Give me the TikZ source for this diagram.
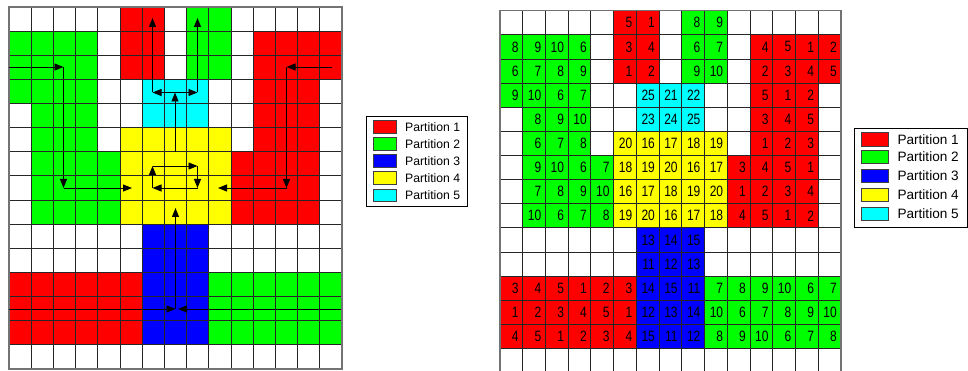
\documentclass[tikz,border=0pt]{standalone}
\usepackage{fontspec}
\usepackage{graphicx}
\setmainfont{Liberation Sans}
\usetikzlibrary{arrows.meta}
\definecolor{cR}{RGB}{255,0,0}
\definecolor{cG}{RGB}{0,255,0}
\definecolor{cB}{RGB}{0,0,255}
\definecolor{cY}{RGB}{255,255,0}
\definecolor{cC}{RGB}{0,255,255}
\definecolor{cW}{RGB}{255,255,255}
\def\cellrows{%
{W,W,W,W,W,R,R,W,G,G,W,W,W,W,W},%
{G,G,G,G,W,R,R,W,G,G,W,R,R,R,R},%
{G,G,G,G,W,R,R,W,G,G,W,R,R,R,R},%
{G,G,G,G,W,W,C,C,C,W,W,R,R,R,W},%
{W,G,G,G,W,W,C,C,C,W,W,R,R,R,W},%
{W,G,G,G,W,Y,Y,Y,Y,Y,W,R,R,R,W},%
{W,G,G,G,G,Y,Y,Y,Y,Y,R,R,R,R,W},%
{W,G,G,G,G,Y,Y,Y,Y,Y,R,R,R,R,W},%
{W,G,G,G,G,Y,Y,Y,Y,Y,R,R,R,R,W},%
{W,W,W,W,W,W,B,B,B,W,W,W,W,W,W},%
{W,W,W,W,W,W,B,B,B,W,W,W,W,W,W},%
{R,R,R,R,R,R,B,B,B,G,G,G,G,G,G},%
{R,R,R,R,R,R,B,B,B,G,G,G,G,G,G},%
{R,R,R,R,R,R,B,B,B,G,G,G,G,G,G},%
{W,W,W,W,W,W,W,W,W,W,W,W,W,W,W}}
\def\numrows{%
{0,0,0,0,0,5,1,0,8,9,0,0,0,0,0},%
{8,9,10,6,0,3,4,0,6,7,0,4,5,1,2},%
{6,7,8,9,0,1,2,0,9,10,0,2,3,4,5},%
{9,10,6,7,0,0,25,21,22,0,0,5,1,2,0},%
{0,8,9,10,0,0,23,24,25,0,0,3,4,5,0},%
{0,6,7,8,0,20,16,17,18,19,0,1,2,3,0},%
{0,9,10,6,7,18,19,20,16,17,3,4,5,1,0},%
{0,7,8,9,10,16,17,18,19,20,1,2,3,4,0},%
{0,10,6,7,8,19,20,16,17,18,4,5,1,2,0},%
{0,0,0,0,0,0,13,14,15,0,0,0,0,0,0},%
{0,0,0,0,0,0,11,12,13,0,0,0,0,0,0},%
{3,4,5,1,2,3,14,15,11,7,8,9,10,6,7},%
{1,2,3,4,5,1,12,13,14,10,6,7,8,9,10},%
{4,5,1,2,3,4,15,11,12,8,9,10,6,7,8}}
\begin{document}
\begin{tikzpicture}[x=1pt,y=-1pt,
  gridline/.style={draw=black!85,line width=0.9pt},
  border/.style={draw=black!55,line width=1.4pt},
  arr/.style={draw=black,line width=0.9pt,-{Triangle[length=9pt,width=7pt]}},
  num/.style={anchor=east,inner sep=0pt,font=\fontsize{15}{16}\selectfont},
  swatch/.style={draw=black!75,line width=0.8pt,inner sep=0pt,minimum width=#1},
  legtext/.style={anchor=west,inner sep=0pt},
  legbox/.style={draw=black,line width=0.9pt,fill=white}]
\useasboundingbox (0,0) rectangle (968,371);
\fill[white] (0,0) rectangle (968,371);
% cells of both grids
\foreach \gx/\gw/\gy in {9/22.2/7, 500/22.73/10.7}{
  \foreach \rr [count=\j from 0] in \cellrows {
    \foreach \c [count=\i from 0] in \rr {
      \fill[c\c] ({\gx+\i*\gw},{\gy+\j*24.13}) rectangle ++(\gw,24.13);
    }
  }
  \foreach \k in {1,...,14}{
    \draw[gridline] ({\gx+\k*\gw},\gy) -- ({\gx+\k*\gw},{\gy+15*24.13});
    \draw[gridline] (\gx,{\gy+\k*24.13}) -- ({\gx+15*\gw},{\gy+\k*24.13});
  }
  \draw[border] (\gx,\gy) rectangle ({\gx+15*\gw},{\gy+15*24.13});
}
% numbers of the right grid
\foreach \nr [count=\j from 0] in \numrows {
  \foreach \n [count=\i from 0] in \nr {
    \ifnum\n>0
      \node[num] (n-\j-\i) at ({500+(\i+1)*22.73-4},{10.7+(\j+0.5)*24.13}) {\scalebox{0.8}[1]{\n}};
    \fi
  }
}
% arrows of the left grid
\coordinate (gA) at (9,67);
\coordinate (gB) at (63.5,67);
\coordinate (gC) at (63.5,188);
\coordinate (gD) at (132,188);
\draw[arr] (gA) -- (gB);
\draw[arr] (gB) -- (gC);
\draw[arr] (gC) -- (gD);
\coordinate (rA) at (332,67);
\coordinate (rB) at (286.5,67);
\coordinate (rC) at (286.5,188);
\coordinate (rD) at (218,188);
\draw[arr] (rA) -- (rB);
\draw[arr] (rB) -- (rC);
\draw[arr] (rC) -- (rD);
\coordinate (cA) at (175,152);
\coordinate (cB) at (175,92.5);
\coordinate (cL) at (152.5,92.5);
\coordinate (cLt) at (152.5,18);
\coordinate (cR) at (197.5,92.5);
\coordinate (cRt) at (197.5,18);
\draw[arr] (cA) -- (cB);
\draw[arr] (cB) -- (cL);
\draw[arr] (cL) -- (cLt);
\draw[arr] (cB) -- (cR);
\draw[arr] (cR) -- (cRt);
\coordinate (l1) at (152.5,188);
\coordinate (l2) at (152.5,166);
\coordinate (l3) at (197.5,166);
\coordinate (l4) at (197.5,188);
\draw[arr] (l1) -- (l2);
\draw[arr] (l2) -- (l3);
\draw[arr] (l3) -- (l4);
\draw[arr] (l4) -- (l1);
\coordinate (bL) at (9,309);
\coordinate (bM) at (175.5,309);
\coordinate (bR) at (341,309);
\coordinate (bM2) at (178,309);
\coordinate (bT) at (175.5,208);
\draw[arr] (bL) -- (bM);
\draw[arr] (bR) -- (bM2);
\draw[arr] (bM) -- (bT);
% legend 1
\node[legbox,minimum width=101pt,minimum height=90pt,anchor=north west,inner sep=0pt] (leg1) at (366,115.7) {};
\foreach \col/\lab/\yy [count=\k] in {cR/1/127,cG/2/143.8,cB/3/160.8,cY/4/178,cC/5/195.5}{
  \node[swatch=23.4pt,minimum height=12.5pt,fill=\col] (s1-\k) at (385,\yy) {};
  \node[legtext,font=\fontsize{12.2}{14}\selectfont] (t1-\k) at (405,\yy) {Partition \lab};
}
% legend 2
\node[legbox,minimum width=113pt,minimum height=98.4pt,anchor=north west,inner sep=0pt] (leg2) at (854.3,128.3) {};
\foreach \col/\lab/\yy [count=\k] in {cR/1/139.3,cG/2/157,cB/3/176,cY/4/194.8,cC/5/214}{
  \node[swatch=26.6pt,minimum height=13.5pt,fill=\col] (s2-\k) at (875,\yy) {};
  \node[legtext,font=\fontsize{13.6}{16}\selectfont] (t2-\k) at (897.3,\yy) {Partition \lab};
}
\end{tikzpicture}
\end{document}
